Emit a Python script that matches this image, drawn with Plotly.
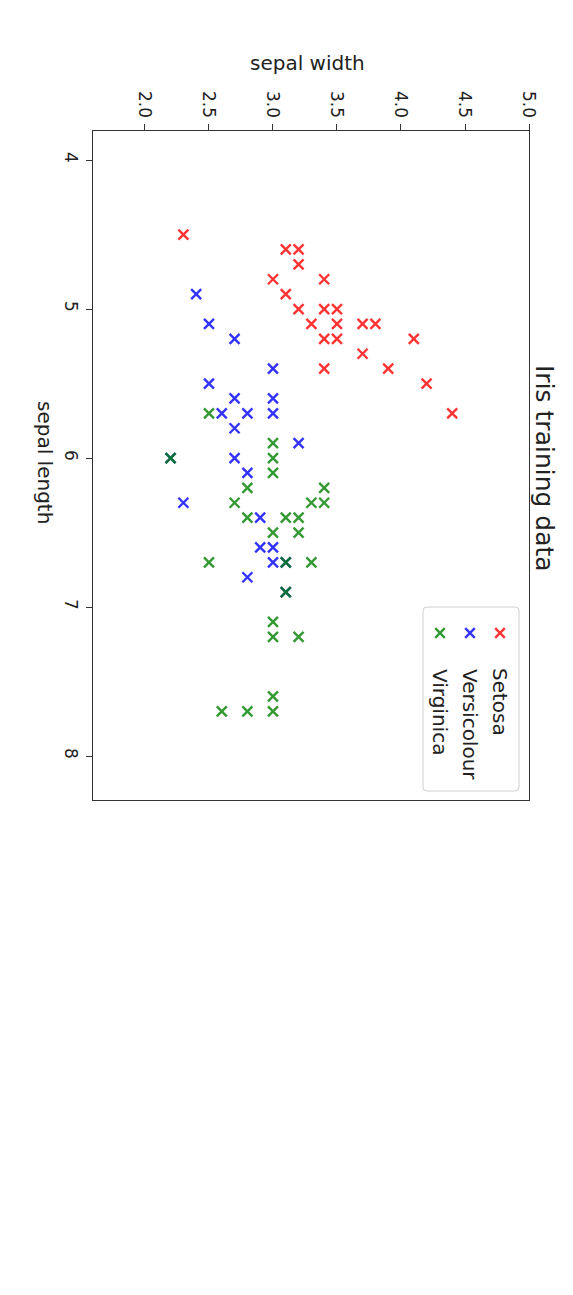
import plotly.graph_objects as go

# sepal length / sepal width per species
setosa_length = [4.5, 4.6, 4.6, 4.7, 4.8, 4.8, 4.9, 5.0, 5.0, 5.0, 5.1, 5.1, 5.1, 5.1,
                 5.2, 5.2, 5.2, 5.3, 5.4, 5.4, 5.5, 5.7]
setosa_width = [2.3, 3.1, 3.2, 3.2, 3.0, 3.4, 3.1, 3.2, 3.4, 3.5, 3.3, 3.5, 3.7, 3.8,
                3.4, 3.5, 4.1, 3.7, 3.4, 3.9, 4.2, 4.4]

versicolour_length = [4.9, 5.1, 5.2, 5.4, 5.5, 5.6, 5.6, 5.7, 5.7, 5.7, 5.8, 5.9, 6.0, 6.0,
                      6.1, 6.3, 6.4, 6.6, 6.6, 6.7, 6.7, 6.8, 6.9]
versicolour_width = [2.4, 2.5, 2.7, 3.0, 2.5, 2.7, 3.0, 2.6, 2.8, 3.0, 2.7, 3.2, 2.7, 2.2,
                     2.8, 2.3, 2.9, 2.9, 3.0, 3.0, 3.1, 2.8, 3.1]

virginica_length = [5.7, 5.9, 6.0, 6.0, 6.1, 6.2, 6.2, 6.3, 6.3, 6.3, 6.4, 6.4, 6.4, 6.5,
                    6.5, 6.7, 6.7, 6.7, 6.9, 7.1, 7.2, 7.2, 7.6, 7.7, 7.7, 7.7]
virginica_width = [2.5, 3.0, 2.2, 3.0, 3.0, 2.8, 3.4, 2.7, 3.3, 3.4, 2.8, 3.1, 3.2, 3.0,
                   3.2, 2.5, 3.1, 3.3, 3.1, 3.0, 3.0, 3.2, 3.0, 2.6, 2.8, 3.0]

species = ['Setosa', 'Versicolour', 'Virginica']
colors = ['rgba(255,0,0,0.8)', 'rgba(0,0,255,0.8)', 'rgba(0,128,0,0.8)']

width_ticks = [2.0, 2.5, 3.0, 3.5, 4.0, 4.5, 5.0]
length_ticks = [4, 5, 6, 7, 8]

W, H = 573, 1295
L, R, T, B = 93, 529, 131, 800  # plot frame in page pixels
BODY = 8  # default page margin around the plot div


def px(x):
    return (x - L) / (R - L)


def py(y):
    return (B - y) / (B - T)


fig = go.Figure()

data = [(setosa_width, setosa_length), (versicolour_width, versicolour_length),
        (virginica_width, virginica_length)]
for name, (w, l), c in zip(species, data, colors):
    fig.add_trace(go.Scatter(x=w, y=l, mode='markers', name=name, showlegend=False,
                             marker=dict(symbol='x-thin', size=10, color=c,
                                         line=dict(width=2.4, color=c))))

# legend drawn by hand, rotated like the reference
shapes = []
r = 4.8
lx0, lx1, ly0, ly1, rad = 423, 519, 607, 791, 4
shapes.append(dict(
    type='path', xref='paper', yref='paper', layer='below',
    path=(f'M {px(lx0 + rad)},{py(ly0)} L {px(lx1 - rad)},{py(ly0)} '
          f'Q {px(lx1)},{py(ly0)} {px(lx1)},{py(ly0 + rad)} '
          f'L {px(lx1)},{py(ly1 - rad)} Q {px(lx1)},{py(ly1)} {px(lx1 - rad)},{py(ly1)} '
          f'L {px(lx0 + rad)},{py(ly1)} Q {px(lx0)},{py(ly1)} {px(lx0)},{py(ly1 - rad)} '
          f'L {px(lx0)},{py(ly0 + rad)} Q {px(lx0)},{py(ly0)} {px(lx0 + rad)},{py(ly0)} Z'),
    line=dict(color='#d0d0d0', width=1), fillcolor='white'))

legend_x = [500, 470, 440]
legend_text_y = [702, 724, 712]
annotations = []
for name, c, cx, ty in zip(species, colors, legend_x, legend_text_y):
    cy = 633
    shapes.append(dict(
        type='path', xref='paper', yref='paper',
        path=(f'M {px(cx - r)},{py(cy - r)} L {px(cx + r)},{py(cy + r)} '
              f'M {px(cx - r)},{py(cy + r)} L {px(cx + r)},{py(cy - r)}'),
        line=dict(color=c, width=2.4)))
    annotations.append(dict(text=name, xref='paper', yref='paper', x=px(cx), y=py(ty),
                            xanchor='center', yanchor='middle', textangle=90,
                            showarrow=False, font=dict(size=20, color='#222')))

annotations += [
    dict(text='sepal width', xref='paper', yref='paper', x=px(307), y=py(63),
         xanchor='center', yanchor='middle', showarrow=False,
         font=dict(size=20, color='#222')),
    dict(text='sepal length', xref='paper', yref='paper', x=px(45), y=py(462),
         xanchor='center', yanchor='middle', textangle=90, showarrow=False,
         font=dict(size=20, color='#222')),
    dict(text='Iris training data', xref='paper', yref='paper', x=px(545), y=py(468),
         xanchor='center', yanchor='middle', textangle=90, showarrow=False,
         font=dict(size=25, color='#222')),
]

fig.update_layout(
    width=W - 2 * BODY, height=H - 2 * BODY,
    margin=dict(l=L - BODY, r=W - BODY - R, t=T - BODY, b=H - BODY - B, pad=0),
    paper_bgcolor='white', plot_bgcolor='white',
    font=dict(family='DejaVu Sans', color='#222'),
    shapes=shapes, annotations=annotations,
    xaxis=dict(side='top', range=[1.594, 5.0], tickvals=width_ticks,
               ticktext=[f'{v:.1f}' for v in width_ticks], tickangle=90,
               ticks='outside', ticklen=6, tickwidth=1.2, tickcolor='#333',
               showline=True, mirror=True, linecolor='#333', linewidth=1.2,
               showgrid=False, zeroline=False, tickfont=dict(size=17)),
    yaxis=dict(range=[8.295, 3.805], tickvals=length_ticks, tickangle=90,
               ticks='outside', ticklen=6, tickwidth=1.2, tickcolor='#333',
               showline=True, mirror=True, linecolor='#333', linewidth=1.2,
               showgrid=False, zeroline=False, tickfont=dict(size=17)),
)

fig.write_html('out.html')
